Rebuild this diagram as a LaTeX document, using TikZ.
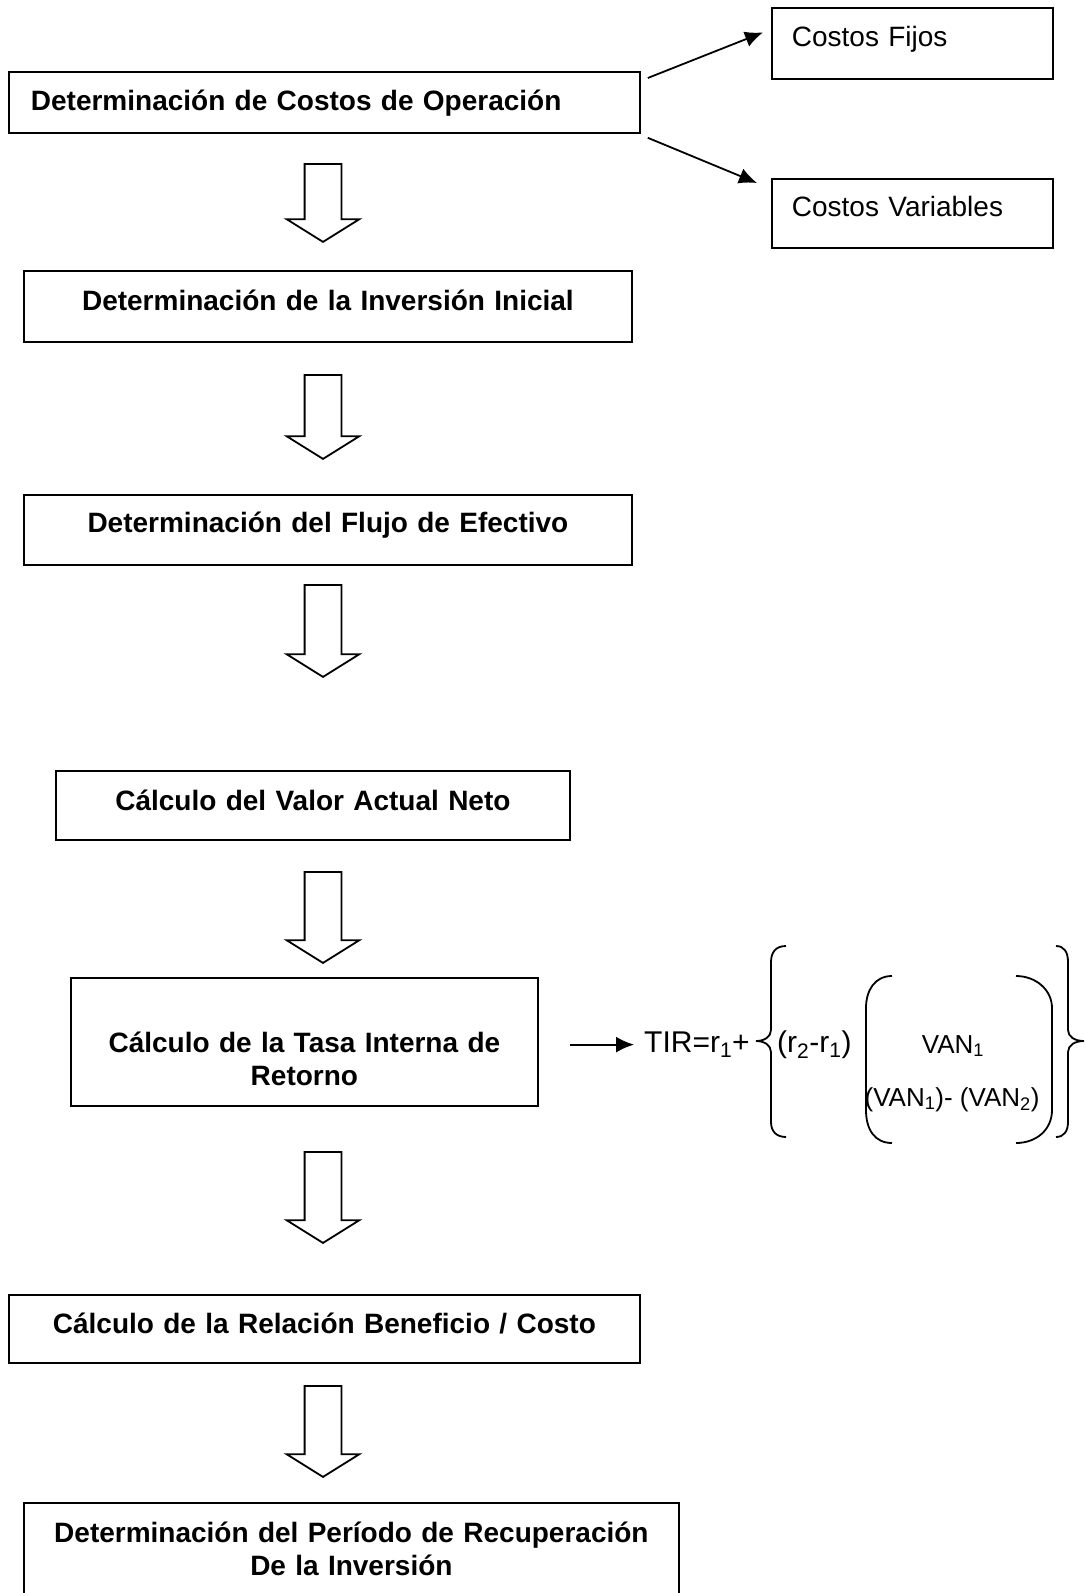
\documentclass[tikz,border=0pt]{standalone}
\usepackage{fontspec}
\setmainfont{Liberation Sans}
\usepackage{tikz}
\usetikzlibrary{arrows.meta, shapes.arrows, calc}

\begin{document}
\begin{tikzpicture}[
        x=1pt, y=-1pt,
        box/.style={
            draw,
            line width=1.8pt,
            anchor=north west,
            inner xsep=0pt,
            inner ysep=0pt,
            align=center,
            font=\bfseries\fontsize{28}{33}\selectfont
        },
        sidebox/.style={
            box,
            align=left,
            inner xsep=20pt,
            font=\fontsize{28}{33}\selectfont
        },
        bigarrow/.style={
            single arrow,
            draw,
            line width=1.8pt,
            shape border rotate=270,
            anchor=tail,
            inner sep=17.5pt,
            minimum width=71pt,
            single arrow head extend=18pt,
            single arrow tip angle=116
        },
        arrow/.style={
            -{Latex[length=18pt,width=16pt]},
            line width=1.8pt
        },
        bracket/.style={
            line width=1.8pt
        }
    ]
        \useasboundingbox (0,0) rectangle (1086,1593);

        \node[box, align=left, inner xsep=22pt, text width=587pt, text height=38.7pt, text depth=22.3pt] (opcost) at (8,71) {Determinación de Costos de Operación};
        \node[sidebox, text width=241pt, text height=38.5pt, text depth=32.5pt] (fijos) at (771,7) {Costos Fijos};
        \node[sidebox, text width=241pt, text height=37.4pt, text depth=31.6pt] (variables) at (771,178) {Costos Variables};
        \node[box, text width=608pt, text height=40pt, text depth=31pt] (inversion) at (23,270) {Determinación de la Inversión Inicial};
        \node[box, text width=608pt, text height=38pt, text depth=32pt] (flujo) at (23,494) {Determinación del Flujo de Efectivo};
        \node[box, text width=514pt, text height=40pt, text depth=29pt] (van) at (55,770) {Cálculo del Valor Actual Neto};
        \node[box, text width=467pt, text height=74.5pt, text depth=53.5pt] (tir) at (70,977) {Cálculo de la Tasa Interna de\\Retorno};
        \node[box, text width=631pt, text height=39pt, text depth=29pt] (bc) at (8,1294) {Cálculo de la Relación Beneficio / Costo};
        \node[box, text width=655pt, text height=40pt, text depth=120pt] (periodo) at (23,1502) {Determinación del Período de Recuperación\\De la Inversión};

        \node[bigarrow, minimum height=78pt] (down1) at (323,163) {};
        \node[bigarrow, minimum height=84pt] (down2) at (323,374) {};
        \node[bigarrow, minimum height=92pt] (down3) at (323,584) {};
        \node[bigarrow, minimum height=91pt] (down4) at (323,871) {};
        \node[bigarrow, minimum height=91pt] (down5) at (323,1151) {};
        \node[bigarrow, minimum height=91pt] (down6) at (323,1385) {};

        \draw[arrow] ([xshift=7pt,yshift=-7pt]opcost.north east) -- ([xshift=-8pt,yshift=11pt]fijos.west);
        \draw[arrow] ([xshift=7pt,yshift=-4pt]opcost.south east) -- ([xshift=-14pt,yshift=-5pt]variables.north west);

        % formula of the TIR
        \node[anchor=base west, inner sep=0pt, font=\fontsize{30}{34}\selectfont] (tirtext) at (644,1052) {TIR=r\textsubscript{1}+};
        \node[anchor=base west, inner sep=0pt, font=\fontsize{30}{34}\selectfont] (rdiff) at (777,1052) {(r\textsubscript{2}-r\textsubscript{1})};
        \node[anchor=base, inner sep=0pt, font=\fontsize{26}{30}\selectfont] (vanone) at (953,1053) {VAN\textsubscript{1}};
        \node[anchor=base, inner sep=0pt, font=\fontsize{26}{30}\selectfont] (vandiff) at (952,1106) {(VAN\textsubscript{1})- (VAN\textsubscript{2})};
        \draw[arrow] ($(tir.east |- tirtext.west)+(31,0)$) -- ($(tirtext.west)+(-10,0)$);

        \draw[bracket] (786,946) .. controls (776,946) and (771,952) .. (771,962) -- (771,1030)
            .. controls (771,1037) and (764,1041) .. (756,1041)
            .. controls (764,1041) and (771,1045) .. (771,1052) -- (771,1122)
            .. controls (771,1131) and (776,1137) .. (786,1137);
        \draw[bracket] (892,976) .. controls (875,976) and (866,990) .. (866,1008) -- (866,1110)
            .. controls (866,1130) and (875,1143) .. (892,1143);
        \draw[bracket] (1016,976) .. controls (1036,976) and (1052,990) .. (1052,1008) -- (1052,1110)
            .. controls (1052,1130) and (1036,1143) .. (1016,1143);
        \draw[bracket] (1056,946) .. controls (1064,946) and (1068,952) .. (1068,962) -- (1068,1030)
            .. controls (1068,1037) and (1075,1041) .. (1084,1041)
            .. controls (1075,1041) and (1068,1045) .. (1068,1052) -- (1068,1122)
            .. controls (1068,1131) and (1064,1137) .. (1056,1137);

    \end{tikzpicture}
\end{document}
